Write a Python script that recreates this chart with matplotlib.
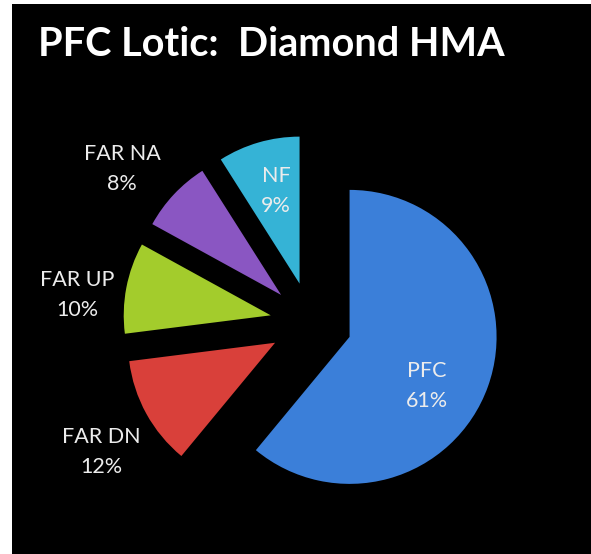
import matplotlib
matplotlib.use("Agg")
import matplotlib.pyplot as plt

# PFC lotic condition shares, Diamond HMA
categories = ["PFC", "FAR DN", "FAR UP", "FAR NA", "NF"]
percents = [61, 12, 10, 8, 9]
colors = ["#3b7fd9", "#d9403a", "#a3cc2c", "#8a56c2", "#35b3d6"]

W, H = 591, 554

fig = plt.figure(figsize=(W / 100, H / 100), dpi=100, facecolor="white")
# black panel, leaving a thin white strip on the left and top
ax = fig.add_axes([12 / W, 0, (W - 12) / W, (H - 4) / H])
ax.set_facecolor("black")

radius = 147
gap = 41
ax.pie(percents, colors=colors, startangle=90, counterclock=False,
       center=(311, H - 323), radius=radius,
       explode=[gap] * len(percents), frame=True,
       wedgeprops=dict(linewidth=0))

ax.set_xlim(12, W)
ax.set_ylim(0, H - 4)
ax.set_aspect("auto")
ax.set_xticks([])
ax.set_yticks([])
for s in ax.spines.values():
    s.set_visible(False)

# label anchors in pixel coordinates (x, y from top)
label_pos = [(427, 386), (101, 452), (77, 295), (122, 169), (276, 191)]
for cat, pct, (lx, ly) in zip(categories, percents, label_pos):
    ax.text(lx, H - ly, f"{cat}\n{pct}%", ha="center", va="center",
            color="#ececec", fontsize=15.5, family="Lato", linespacing=1.6)

ax.text(271, H - 44, "PFC Lotic:  Diamond HMA", ha="center", va="center",
        color="white", fontsize=28.5, fontweight="bold", family="Lato")

fig.savefig("out.png", dpi=100, facecolor=fig.get_facecolor())
